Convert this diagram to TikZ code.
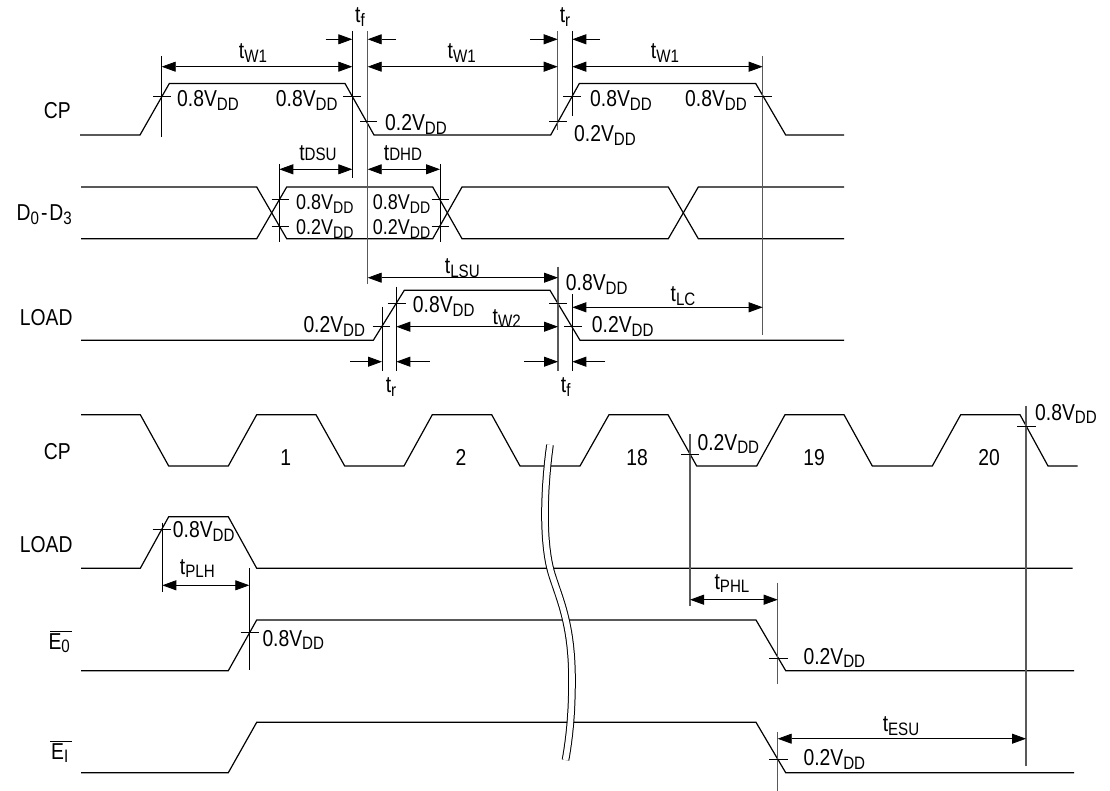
\documentclass[tikz,border=0pt]{standalone}
\usepackage{fontspec}
\setmainfont[FakeStretch=0.84]{Liberation Sans}
\usetikzlibrary{arrows.meta}
\newcommand{\subsize}{\fontsize{18}{18}\selectfont}
\newcommand{\lowsub}[1]{\raisebox{-3.5pt}{\subsize #1}}
\newcommand{\vdd}[1]{#1V\lowsub{DD}}
\newcommand{\tsub}[1]{t\lowsub{#1}}
\newcommand{\tsmall}[1]{t\raisebox{-3.5pt}{\subsize #1}}
\tikzset{
  wave/.style={line width=1.2pt,line join=miter},
  guide/.style={line width=1pt},
  grayguide/.style={line width=1.2pt,black!65},
  tickmark/.style={line width=0.8pt},
  span/.style={line width=0.8pt,{Triangle[length=14pt,width=10pt]}-{Triangle[length=14pt,width=10pt]}},
  inarrow/.style={line width=0.8pt,-{Triangle[length=14pt,width=10pt]}},
  lbl/.style={inner sep=0pt,font=\fontsize{23}{23}\selectfont,anchor=base west},
  mid/.style={lbl,anchor=base},
  sig/.style={lbl,anchor=base east},
}
\begin{document}
\begin{tikzpicture}[x=1pt,y=-1pt]
  \useasboundingbox (0,0) rectangle (1110,791);
  \draw[wave] (80,135) -- (140,135) -- (169.3,83.5) -- (345,83.5) -- (374,135) -- (550.7,135) -- (579.3,83.5) -- (755.7,83.5) -- (785.7,135) -- (844,135);
  \draw[wave] (81,187) -- (256.7,187) -- (286.7,238.7) -- (432.7,238.7) -- (462,187) -- (668.3,187) -- (698.3,238.7) -- (844,238.7);
  \draw[wave] (81,238.7) -- (256.7,238.7) -- (286.7,187) -- (432.7,187) -- (462,238.7) -- (668.3,238.7) -- (698.3,187) -- (844,187);
  \draw[wave] (81,340.3) -- (373.3,340.3) -- (404.3,290.3) -- (550,290.3) -- (580,340.3) -- (844,340.3);

  \draw[guide] (161.7,56) -- (161.7,136.7);
  \draw[guide] (352.3,31) -- (352.3,178);
  \draw[grayguide] (367.7,31) -- (367.7,284);
  \draw[grayguide] (557.7,31) -- (557.7,130);
  \draw[guide] (572.3,31) -- (572.3,115.7);
  \draw[grayguide] (762.7,56) -- (762.7,335);
  \draw[guide] (279.3,164) -- (279.3,241.7);
  \draw[guide] (440,164) -- (440,241.7);
  \draw[guide] (382,306.7) -- (382,370.7);
  \draw[guide] (396.3,286.7) -- (396.3,370.7);
  \draw[grayguide] (558,266.7) -- (558,370.7);
  \draw[guide] (572.3,294.3) -- (572.3,370.7);

  \draw[tickmark] (153,96) -- (171,96);
  \draw[tickmark] (343,96) -- (361,96);
  \draw[tickmark] (360,121.7) -- (377,121.7);
  \draw[tickmark] (549,121.7) -- (566.7,121.7);
  \draw[tickmark] (563.3,96) -- (581,96);
  \draw[tickmark] (754.3,96) -- (772.3,96);
  \draw[tickmark] (271.7,199) -- (289,199);
  \draw[tickmark] (271.7,226.7) -- (289,226.7);
  \draw[tickmark] (431.7,199) -- (449.3,199);
  \draw[tickmark] (431.7,226.7) -- (449.3,226.7);
  \draw[tickmark] (372.7,326.7) -- (390.3,326.7);
  \draw[tickmark] (387.7,303.3) -- (405.7,303.3);
  \draw[tickmark] (549,303.3) -- (566.7,303.3);
  \draw[tickmark] (564,326.7) -- (581.7,326.7);

  \draw[inarrow] (325.7,39.3) -- (352.3,39.3);
  \draw[inarrow] (396,39.3) -- (367.7,39.3);
  \draw[inarrow] (530,39.3) -- (557.7,39.3);
  \draw[inarrow] (600,39.3) -- (572.3,39.3);
  \draw[span] (161.7,66.7) -- (352.3,66.7);
  \draw[span] (367.7,66.7) -- (557.7,66.7);
  \draw[span] (572.3,66.7) -- (762.7,66.7);
  \draw[span] (279.3,169.3) -- (352.3,169.3);
  \draw[span] (367.7,169.3) -- (440,169.3);
  \draw[span] (367.7,277.7) -- (558,277.7);
  \draw[span] (396.3,326.7) -- (558,326.7);
  \draw[span] (572.3,307.3) -- (762.7,307.3);
  \draw[inarrow] (350,361.7) -- (382,361.7);
  \draw[inarrow] (430,361.7) -- (396.3,361.7);
  \draw[inarrow] (524.3,361.7) -- (558,361.7);
  \draw[inarrow] (605,361.7) -- (572.3,361.7);

  \node[sig] (cptop) at (71,119) {CP};
  \node[sig] (dbus) at (72,221) {D\lowsub{0}\hspace{2pt}-\hspace{2pt}D\lowsub{3}};
  \node[sig] (loadtop) at (72.7,325) {LOAD};
  \node[mid] (tfa) at (360,23) {\tsmall{f}};
  \node[mid] (tra) at (565,23) {\tsmall{r}};
  \node[mid] (twa) at (253,59) {\tsub{W1}};
  \node[mid] (twb) at (461.7,59) {\tsub{W1}};
  \node[mid] (twc) at (665,59) {\tsub{W1}};
  \node[lbl] (cpa) at (177,107) {\vdd{0.8}};
  \node[lbl] (cpb) at (275.7,107) {\vdd{0.8}};
  \node[lbl] (cpc) at (385,130.7) {\vdd{0.2}};
  \node[lbl] (cpd) at (590,107) {\vdd{0.8}};
  \node[lbl] (cpe) at (574,141.7) {\vdd{0.2}};
  \node[lbl] (cpf) at (685,107) {\vdd{0.8}};
  \node[mid] (tdsu) at (318,160.5) {t{\subsize DSU}};
  \node[mid] (tdhd) at (403,160.5) {t{\subsize DHD}};
  \node[lbl,scale=0.93] (dha) at (296,210) {\vdd{0.8}};
  \node[lbl,scale=0.93] (dla) at (296,235) {\vdd{0.2}};
  \node[lbl,scale=0.93] (dhb) at (372.7,210) {\vdd{0.8}};
  \node[lbl,scale=0.93] (dlb) at (372.7,235) {\vdd{0.2}};
  \node[mid] (tlsu) at (462.3,274) {\tsub{LSU}};
  \node[mid] (twd) at (506.7,324) {\tsub{W2}};
  \node[mid] (tlc) at (683,301.7) {\tsub{LC}};
  \node[lbl] (lda) at (303.3,333) {\vdd{0.2}};
  \node[lbl] (ldb) at (412.7,312.7) {\vdd{0.8}};
  \node[lbl] (ldc) at (565.7,290.7) {\vdd{0.8}};
  \node[lbl] (ldd) at (591.7,333) {\vdd{0.2}};
  \node[mid] (trb) at (391,392.7) {\tsmall{r}};
  \node[mid] (tfb) at (565.7,392.7) {\tsmall{f}};

  \draw[wave] (81,414.7) -- (140.3,414.7) -- (168.7,466) -- (228.3,466) -- (256.7,414.7) -- (316,414.7) -- (344.7,466) -- (404,466) -- (432.3,414.7) -- (491.7,414.7) -- (520,466) -- (580,466) -- (609,414.7) -- (668,414.7) -- (696.7,466) -- (756.7,466) -- (785,414.7) -- (844,414.7) -- (872.3,466) -- (932.3,466) -- (960.7,414.7) -- (1020,414.7) -- (1048,466) -- (1077.7,466);
  \draw[wave] (81,568.3) -- (140.3,568.3) -- (168.7,516.7) -- (228.3,516.7) -- (256.7,568.3) -- (1072.7,568.3);
  \draw[wave] (81,670.7) -- (228.3,670.7) -- (256.7,620) -- (756,620) -- (785.7,670.7) -- (1074,670.7);
  \draw[wave] (81,772.7) -- (228.3,772.7) -- (256.7,722.3) -- (756,722.3) -- (785.7,772.7) -- (1074,772.7);

  \draw[line width=1pt,double=white,double distance=5.6pt] (550,445) .. controls (545,480) and (541,540) .. (552,575) .. controls (560,600) and (572,625) .. (572,680) .. controls (572,710) and (570,735) .. (565.5,760);

  \draw[guide] (162.3,522.7) -- (162.3,591.7);
  \draw[guide] (249.3,568.3) -- (249.3,670);
  \draw[grayguide] (690,434.3) -- (690,605.7);
  \draw[grayguide] (777.7,582.7) -- (777.7,684.3);
  \draw[grayguide] (777.7,732.3) -- (777.7,790.7);
  \draw[grayguide] (1026,405.7) -- (1026,765.7);

  \draw[tickmark] (152.7,529.3) -- (171.3,529.3);
  \draw[tickmark] (240.7,632.7) -- (259,632.7);
  \draw[tickmark] (681,454.3) -- (699,454.3);
  \draw[tickmark] (769.3,658.3) -- (788.3,658.3);
  \draw[tickmark] (769.3,759.3) -- (788.3,759.3);
  \draw[tickmark] (1017.3,426.7) -- (1035.7,426.7);

  \draw[span] (162.3,585.3) -- (249.3,585.3);
  \draw[span] (690,599.7) -- (777.7,599.7);
  \draw[span] (777.7,738.7) -- (1026,738.7);

  \draw[line width=0.8pt] (50,631.7) -- (71.7,631.7);
  \draw[line width=0.8pt] (50,741.7) -- (71.7,741.7);

  \node[sig] (cplow) at (71,459) {CP};
  \node[sig] (loadlow) at (72.7,552.7) {LOAD};
  \node[sig] (ezero) at (70,649) {E\lowsub{0}};
  \node[sig] (eone) at (68.5,759) {E\lowsub{I}};
  \node[mid] (cnta) at (285.7,465) {1};
  \node[mid] (cntb) at (461,465) {2};
  \node[mid] (cntc) at (637,465) {18};
  \node[mid] (cntd) at (814,465) {19};
  \node[mid] (cnte) at (989,465) {20};
  \node[lbl] (lva) at (172.7,537.7) {\vdd{0.8}};
  \node[mid] (tplh) at (197.3,574) {\tsub{PLH}};
  \node[lbl] (eva) at (262.3,646) {\vdd{0.8}};
  \node[lbl] (cvb) at (697.3,450) {\vdd{0.2}};
  \node[mid] (tphl) at (732,589.3) {\tsub{PHL}};
  \node[lbl] (evb) at (803.3,664.3) {\vdd{0.2}};
  \node[lbl] (evc) at (803.3,765.7) {\vdd{0.2}};
  \node[mid] (tesu) at (901,731.7) {\tsub{ESU}};
  \node[lbl] (cvc) at (1035,420) {\vdd{0.8}};
\end{tikzpicture}
\end{document}
